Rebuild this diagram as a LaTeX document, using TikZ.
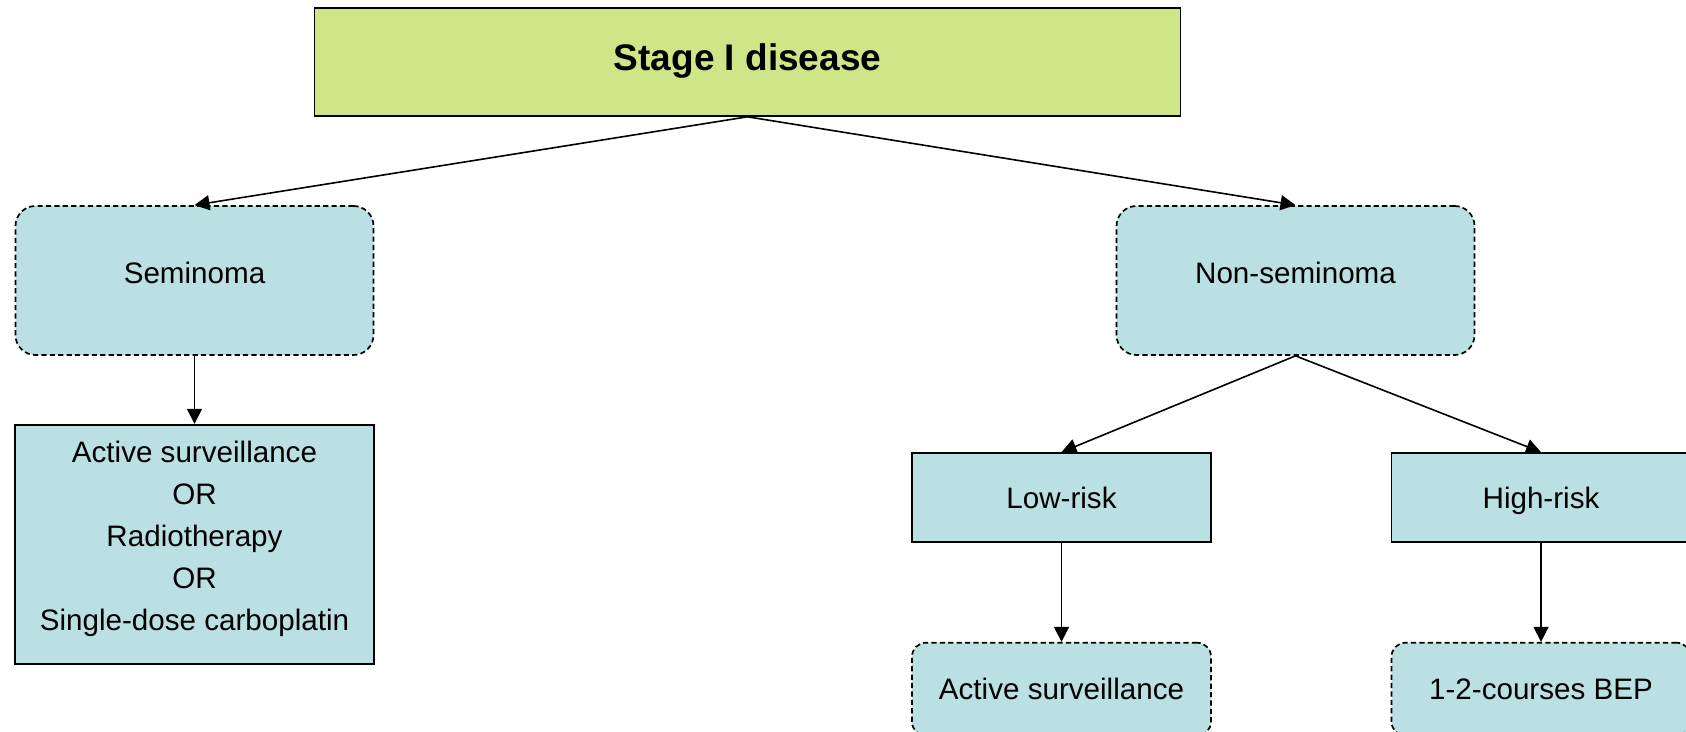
\documentclass[tikz,border=0pt]{standalone}
\usepackage{fontspec}
\setmainfont{Liberation Sans}
\usepackage{tikz}
\usetikzlibrary{arrows.meta,positioning}
\definecolor{stagegreen}{RGB}{207,229,135}
\definecolor{paleblue}{RGB}{186,224,227}
\tikzset{
	stagebox/.style={
		draw, rectangle, fill=stagegreen, line width=0.8pt,
		minimum width=433pt, minimum height=54pt,
		text height=13.3pt, text depth=4.4pt,
		font=\fontsize{18.5}{22}\selectfont\bfseries
	},
	solidbox/.style={
		draw, rectangle, fill=paleblue, line width=0.85pt,
		inner sep=0pt, align=center,
		font=\fontsize{14.8}{21}\selectfont
	},
	dashbox/.style={
		solidbox, dash pattern=on 2.6pt off 1.6pt, rounded corners=7pt
	},
	typebox/.style={
		dashbox, rounded corners=10pt,
		minimum width=179pt, minimum height=74.5pt,
		text height=10.6pt, text depth=7.5pt
	},
	riskbox/.style={
		minimum width=149.5pt, text height=10.6pt, text depth=0pt
	},
	arrow/.style={-{Triangle[length=7.5pt,width=7.5pt]}, line width=0.8pt}
}

\begin{document}
\begin{tikzpicture}[x=0.5pt,y=0.5pt]
  \clip (0,0) rectangle (1686,-732);
  \node[stagebox] (stage) at (747.5,-62) {Stage I disease};
  % first split
  \node[typebox] (sem)    at (194.5,-280.5)  {Seminoma};
  \node[typebox] (nonsem) at (1295.5,-280.5) {Non-seminoma};
  \node[solidbox, minimum width=179.5pt, minimum height=119.5pt]
    (semopt) [below=34pt of sem]
    {Active surveillance\\OR\\Radiotherapy\\OR\\Single-dose carboplatin\rule[-8.5pt]{0pt}{8.5pt}};
  % risk groups
  \node[solidbox, riskbox, minimum height=44.5pt] (low)  at (1061.5,-497.5) {Low-risk};
  \node[solidbox, riskbox, minimum height=44.5pt] (high) at (1541,-497.5)   {High-risk};
  \node[dashbox, riskbox, minimum height=46.5pt] (lowact)  [below=49.5pt of low]  {Active surveillance};
  \node[dashbox, riskbox, minimum height=46.5pt] (highbep) [below=49.5pt of high] {1-2-courses BEP};
  \draw[arrow] (stage.south) -- (sem.north);
  \draw[arrow] (stage.south) -- (nonsem.north);
  \draw[arrow] (sem) -- (semopt);
  \draw[arrow] (nonsem.south) -- (low.north);
  \draw[arrow] (nonsem.south) -- (high.north);
  \draw[arrow] (low) -- (lowact);
  \draw[arrow] (high) -- (highbep);
\end{tikzpicture}
\end{document}
